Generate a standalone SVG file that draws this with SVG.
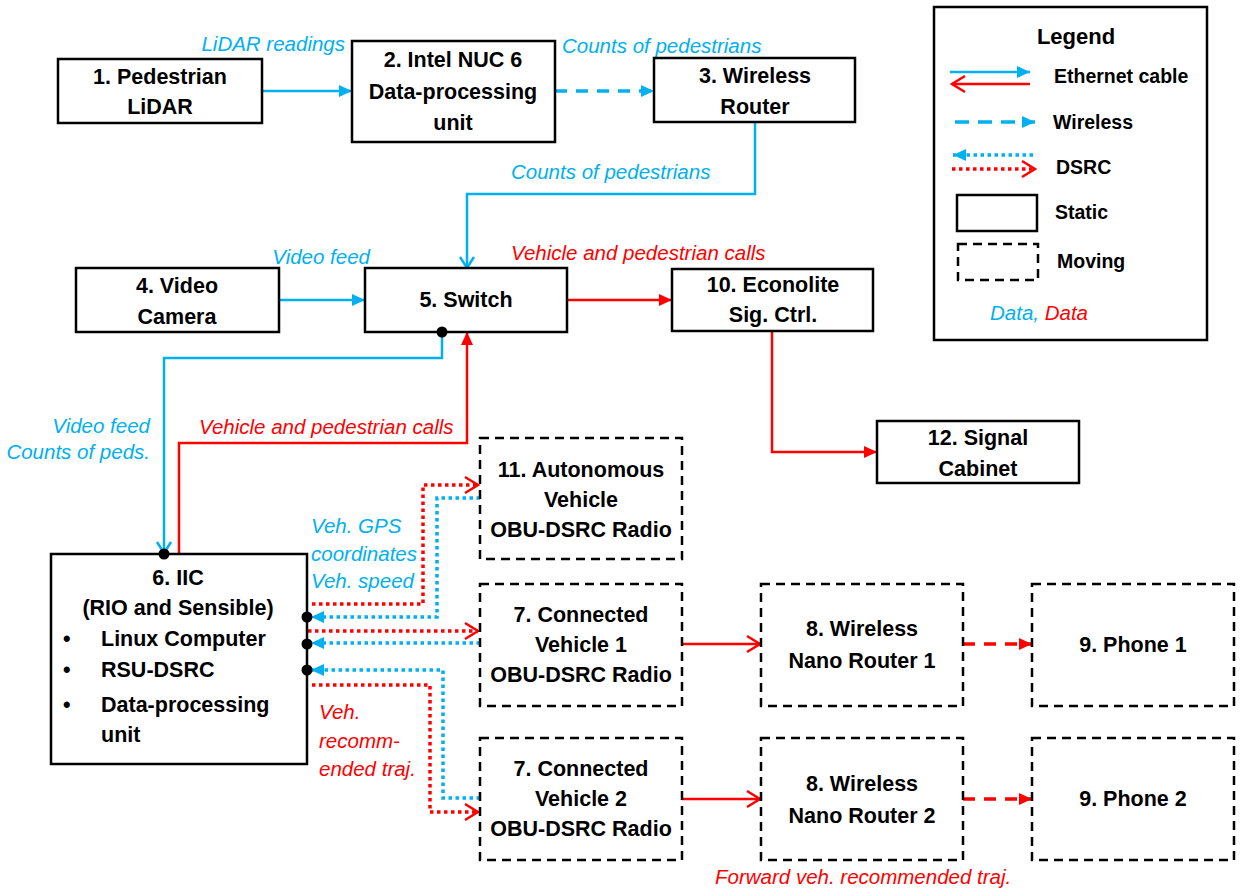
<svg xmlns="http://www.w3.org/2000/svg" width="1241" height="893" viewBox="0 0 1241 893">
<style>
.box{fill:#fff;stroke:#000;stroke-width:2.5}
.mov{fill:#fff;stroke:#000;stroke-width:2.5;stroke-dasharray:9 6}
.t{font-family:"Liberation Sans",Arial,sans-serif;font-weight:bold;font-size:21.5px;fill:#000;text-anchor:middle;dominant-baseline:central}
.tl{font-family:"Liberation Sans",Arial,sans-serif;font-weight:bold;font-size:21.5px;fill:#000;dominant-baseline:central}
.lg{font-family:"Liberation Sans",Arial,sans-serif;font-weight:bold;font-size:19.5px;fill:#000;dominant-baseline:central}
.lb{font-family:"Liberation Sans",Arial,sans-serif;font-style:italic;font-size:20.5px;fill:#00B0F0;dominant-baseline:central}
.lr{font-family:"Liberation Sans",Arial,sans-serif;font-style:italic;font-size:20.5px;fill:#FF0000;dominant-baseline:central}
.b{fill:none;stroke:#00B0F0;stroke-width:2.5}
.r{fill:none;stroke:#FF0000;stroke-width:2.5}
.bd{fill:none;stroke:#00B0F0;stroke-width:3.5;stroke-dasharray:12 9}
.rd{fill:none;stroke:#FF0000;stroke-width:3.5;stroke-dasharray:12 9}
.bdot{fill:none;stroke:#00B0F0;stroke-width:3.5;stroke-dasharray:3.5 3.5}
.rdot{fill:none;stroke:#FF0000;stroke-width:3.5;stroke-dasharray:3.5 3.5}
</style>
<defs>
<marker id="bt" markerUnits="userSpaceOnUse" markerWidth="14" markerHeight="12" refX="13" refY="6" orient="auto"><path d="M0,0 L13,6 L0,12 z" fill="#00B0F0"/></marker>
<marker id="rt" markerUnits="userSpaceOnUse" markerWidth="14" markerHeight="12" refX="13" refY="6" orient="auto"><path d="M0,0 L13,6 L0,12 z" fill="#FF0000"/></marker>
<marker id="bc" markerUnits="userSpaceOnUse" markerWidth="16" markerHeight="18" refX="13" refY="9" orient="auto"><path d="M2,2 L13,9 L2,16" fill="none" stroke="#00B0F0" stroke-width="2.5"/></marker>
<marker id="rc" markerUnits="userSpaceOnUse" markerWidth="18" markerHeight="20" refX="15" refY="10" orient="auto"><path d="M2,2 L15,10 L2,18" fill="none" stroke="#FF0000" stroke-width="2.5"/></marker>
</defs>
<rect width="1241" height="893" fill="#fff"/>

<g id="connectors">
<path class="b" d="M262,91 H352" marker-end="url(#bt)"/>
<path class="bd" d="M555,91 H654" marker-end="url(#bt)"/>
<path class="b" d="M755,122 V194 H467 V268" marker-end="url(#bc)"/>
<path class="b" d="M279,300 H365" marker-end="url(#bt)"/>
<path class="r" d="M567,300 H672" marker-end="url(#rt)"/>
<path class="r" d="M772,331 V452 H877" marker-end="url(#rt)"/>
<path class="b" d="M442,332 V358 H164 V553" marker-end="url(#bc)"/>
<path class="r" d="M179,554 V443 H467 V332" marker-end="url(#rt)"/>
<path class="rdot" d="M312,604 H423 V485 H478" marker-end="url(#rc)"/>
<path class="bdot" d="M480,498 H437 V617 H311" marker-end="url(#bt)"/>
<path class="rdot" d="M308,631 H478" marker-end="url(#rc)"/>
<path class="bdot" d="M480,643 H311" marker-end="url(#bt)"/>
<path class="bdot" d="M480,798 H443 V670 H311" marker-end="url(#bt)"/>
<path class="rdot" d="M312,685 H430 V812 H478" marker-end="url(#rc)"/>
<path class="r" d="M682,644 H760" marker-end="url(#rc)"/>
<path class="r" d="M682,799 H760" marker-end="url(#rc)"/>
<path class="rd" d="M963,644 H1032" marker-end="url(#rt)"/>
<path class="rd" d="M963,799 H1032" marker-end="url(#rt)"/>
</g>

<g id="labels">
<text class="lb" x="345" y="43" text-anchor="end">LiDAR readings</text>
<text class="lb" x="562" y="45">Counts of pedestrians</text>
<text class="lb" x="511" y="171">Counts of pedestrians</text>
<text class="lb" x="370" y="256" text-anchor="end">Video feed</text>
<text class="lr" x="511" y="252">Vehicle and pedestrian calls</text>
<text class="lb" x="150" y="425" text-anchor="end">Video feed</text>
<text class="lb" x="150" y="451" text-anchor="end">Counts of peds.</text>
<text class="lr" x="199" y="426">Vehicle and pedestrian calls</text>
<text class="lb" x="311" y="525">Veh. GPS</text>
<text class="lb" x="311" y="553">coordinates</text>
<text class="lb" x="311" y="580">Veh. speed</text>
<text class="lr" x="319" y="711">Veh.</text>
<text class="lr" x="319" y="740">recomm-</text>
<text class="lr" x="319" y="768">ended traj.</text>
<text class="lr" x="715" y="876">Forward veh. recommended traj.</text>
</g>

<g id="n1"><rect class="box" x="58" y="59" width="204" height="64"/><text class="t" x="160" y="77">1. Pedestrian</text><text class="t" x="160" y="107">LiDAR</text></g>
<g id="n2"><rect class="box" x="352" y="41" width="203" height="101"/><text class="t" x="453" y="60">2. Intel NUC 6</text><text class="t" x="453" y="92">Data-processing</text><text class="t" x="453" y="123">unit</text></g>
<g id="n3"><rect class="box" x="654" y="58" width="201" height="64"/><text class="t" x="755" y="76">3. Wireless</text><text class="t" x="755" y="107">Router</text></g>
<g id="n4"><rect class="box" x="76" y="268" width="203" height="64"/><text class="t" x="177" y="286">4. Video</text><text class="t" x="177" y="317">Camera</text></g>
<g id="n5"><rect class="box" x="365" y="268" width="202" height="64"/><text class="t" x="466" y="300">5. Switch</text></g>
<g id="n10"><rect class="box" x="672" y="269" width="201" height="62"/><text class="t" x="773" y="285">10. Econolite</text><text class="t" x="773" y="315">Sig. Ctrl.</text></g>
<g id="n12"><rect class="box" x="877" y="421" width="202" height="62"/><text class="t" x="978" y="438">12. Signal</text><text class="t" x="978" y="469">Cabinet</text></g>
<g id="n6"><rect class="box" x="51" y="554" width="256" height="210"/>
<text class="t" x="178" y="578">6. IIC</text><text class="t" x="178" y="608">(RIO and Sensible)</text>
<text class="tl" x="63" y="639">•</text><text class="tl" x="101" y="639">Linux Computer</text>
<text class="tl" x="63" y="670">•</text><text class="tl" x="101" y="670">RSU-DSRC</text>
<text class="tl" x="63" y="705">•</text><text class="tl" x="101" y="705">Data-processing</text>
<text class="tl" x="101" y="735">unit</text></g>
<g id="n11"><rect class="mov" x="480" y="438" width="202" height="121"/><text class="t" x="581" y="470">11. Autonomous</text><text class="t" x="581" y="500">Vehicle</text><text class="t" x="581" y="530">OBU-DSRC Radio</text></g>
<g id="n7a"><rect class="mov" x="480" y="584" width="202" height="122"/><text class="t" x="581" y="615">7. Connected</text><text class="t" x="581" y="645">Vehicle 1</text><text class="t" x="581" y="675">OBU-DSRC Radio</text></g>
<g id="n7b"><rect class="mov" x="480" y="738" width="202" height="122"/><text class="t" x="581" y="769">7. Connected</text><text class="t" x="581" y="799">Vehicle 2</text><text class="t" x="581" y="829">OBU-DSRC Radio</text></g>
<g id="n8a"><rect class="mov" x="761" y="584" width="202" height="122"/><text class="t" x="862" y="629">8. Wireless</text><text class="t" x="862" y="661">Nano Router 1</text></g>
<g id="n8b"><rect class="mov" x="761" y="738" width="202" height="122"/><text class="t" x="862" y="784">8. Wireless</text><text class="t" x="862" y="816">Nano Router 2</text></g>
<g id="n9a"><rect class="mov" x="1032" y="584" width="202" height="122"/><text class="t" x="1133" y="645">9. Phone 1</text></g>
<g id="n9b"><rect class="mov" x="1032" y="738" width="202" height="122"/><text class="t" x="1133" y="799">9. Phone 2</text></g>

<g id="ports">
<circle cx="442" cy="332" r="5.5" fill="#000"/>
<circle cx="164" cy="554" r="5.5" fill="#000"/>
<circle cx="307" cy="617" r="5.5" fill="#000"/>
<circle cx="307" cy="644" r="5.5" fill="#000"/>
<circle cx="307" cy="670" r="5.5" fill="#000"/>
</g>

<g id="legend">
<rect class="box" x="934" y="7" width="273" height="333"/>
<text class="lg" x="1076" y="36" text-anchor="middle" style="font-size:22px">Legend</text>
<path class="b" d="M950,72 H1030" marker-end="url(#bt)"/>
<path class="r" d="M1030,84 H952" marker-end="url(#rc)"/>
<text class="lg" x="1054" y="76">Ethernet cable</text>
<path class="bd" d="M955,122 H1035" style="stroke-dasharray:14 9" marker-end="url(#bt)"/>
<text class="lg" x="1053" y="122">Wireless</text>
<path class="bdot" d="M1033,155 H953" marker-end="url(#bt)"/>
<path class="rdot" d="M952,169 H1035" marker-end="url(#rc)"/>
<text class="lg" x="1056" y="167">DSRC</text>
<rect class="box" x="957" y="195" width="80" height="36"/>
<text class="lg" x="1055" y="212">Static</text>
<rect class="mov" x="958" y="244" width="80" height="36"/>
<text class="lg" x="1057" y="261">Moving</text>
<text class="lb" x="990" y="312">Data, <tspan fill="#FF0000">Data</tspan></text>
</g>
</svg>
